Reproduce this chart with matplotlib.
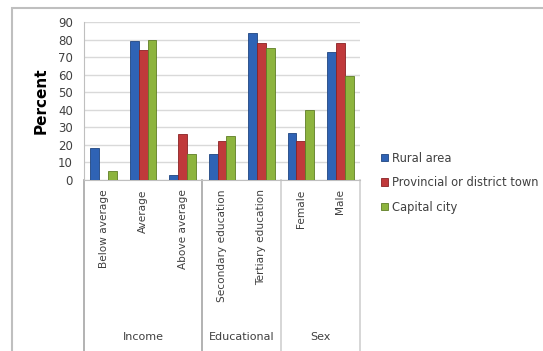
import matplotlib
matplotlib.use("Agg")
import matplotlib.pyplot as plt
import numpy as np
from matplotlib.patches import Rectangle
from matplotlib.lines import Line2D

categories = ["Below average", "Average", "Above average",
              "Secondary education", "Tertiary education", "Female", "Male"]
groups = ["Income", "Educational", "Sex"]
group_sizes = [3, 2, 2]
series = ["Rural area", "Provincial or district town", "Capital city"]
rural = [18, 79, 3, 15, 84, 27, 73]
provincial = [0, 74, 26, 22, 78, 22, 78]
capital = [5, 80, 15, 25, 75, 40, 59]
yticks = list(range(0, 91, 10))

colors = ["#2F63B5", "#C0393B", "#8DB43E"]
edges = ["#1F4580", "#8A2224", "#5F7D26"]

fig = plt.figure(figsize=(5.43, 3.51), dpi=100)
fig.patch.set_facecolor("white")
ax = fig.add_axes([84/543, 1-180/351, 276/543, 158/351])

x = np.arange(len(categories))
w = 0.225
for i, (vals, c, e) in enumerate(zip([rural, provincial, capital], colors, edges)):
    ax.bar(x + (i-1)*w, vals, width=w, color=c, edgecolor=e, linewidth=0.6,
           label=series[i], zorder=3)

ax.set_xlim(-0.5, len(categories)-0.5)
ax.set_ylim(0, 90)
ax.set_yticks(yticks)
ax.set_yticklabels([str(t) for t in yticks], fontsize=8.5, color="#404040")
ax.tick_params(axis="y", length=0, pad=8)
ax.grid(axis="y", color="#D9D9D9", linewidth=1.0, zorder=0)
ax.set_axisbelow(True)
for s in ["top", "right"]:
    ax.spines[s].set_visible(False)
ax.spines["left"].set_color("#BFBFBF")
ax.spines["bottom"].set_color("#BFBFBF")
ax.set_xticks([])
ax.set_ylabel("Percent", fontsize=11, fontweight="bold", labelpad=7)

# category labels
for xi, lab in zip(x, categories):
    ax.text(xi, -0.06, lab, rotation=90, ha="center", va="top",
            fontsize=7.6, color="#404040", transform=ax.get_xaxis_transform())

# separators
trans = ax.get_xaxis_transform()
bottom = (180-351)/158
bounds = np.cumsum([0] + group_sizes) - 0.5
for k, b in enumerate(bounds):
    col = "#A6A6A6" if k in (0, 1) else "#D0D0D0"
    ax.add_line(Line2D([b, b], [0, bottom], transform=trans, color=col,
                       linewidth=1.2, clip_on=False))
for k, g in enumerate(groups):
    cx = (bounds[k] + bounds[k+1]) / 2
    ax.text(cx, (180-337)/158, g, ha="center", va="center", fontsize=8,
            color="#404040", transform=trans)

# legend
leg = fig.legend(loc="upper left", bbox_to_anchor=(376/543, 1-147/351),
                 frameon=False, fontsize=8.3, handlelength=0.65, handleheight=0.65,
                 handletextpad=0.35, labelspacing=1.0, borderaxespad=0)
for t in leg.get_texts():
    t.set_color("#404040")

# outer border
fig.add_artist(Rectangle((12/543, -0.1), 1.2, 1-8/351+0.1, transform=fig.transFigure,
                         fill=False, edgecolor="#BFBFBF", linewidth=1.5))

fig.savefig("out.png", dpi=100)
